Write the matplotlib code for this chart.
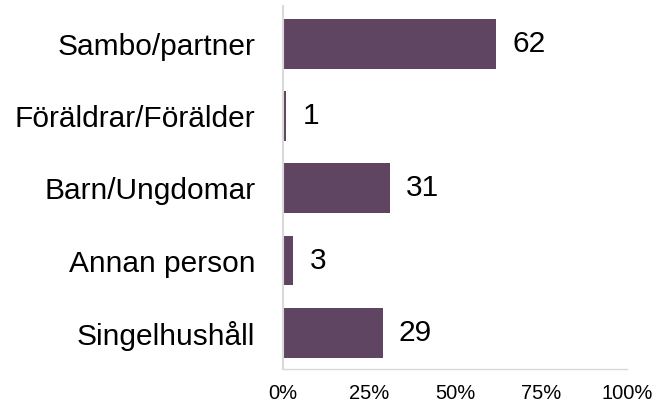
import matplotlib
matplotlib.use("Agg")
import matplotlib.pyplot as plt

categories = ["Sambo/partner", "Föräldrar/Förälder", "Barn/Ungdomar", "Annan person", "Singelhushåll"]
values = [62, 1, 31, 3, 29]
xticks = [0, 25, 50, 75, 100]
xticklabels = ["0%", "25%", "50%", "75%", "100%"]

plt.rcParams['font.family'] = ['Liberation Sans', 'DejaVu Sans']

fig = plt.figure(figsize=(6.58, 4.07), dpi=100)
ax = fig.add_axes([283/658, 1-369/407, (627-283)/658, (369-6)/407])

y = list(range(len(categories)))
ax.barh(y, values, height=0.69, color="#604563")
for yi, v in zip(y, values):
    ax.text(v + 4.7, yi, str(v), va="center", ha="left", fontsize=21.5, color="black")

ax.set_xlim(0, 100)
ax.set_ylim(4.5, -0.52)
ax.set_yticks(y)
ax.set_yticklabels(categories, fontsize=21.5)
ax.set_xticks(xticks)
ax.set_xticklabels(xticklabels, fontsize=14.5)
ax.tick_params(axis="both", length=0)
ax.tick_params(axis="y", pad=20)
ax.tick_params(axis="x", pad=11)
for s in ["top", "right"]:
    ax.spines[s].set_visible(False)
ax.spines["left"].set_color("#d9d9d9")
ax.spines["left"].set_linewidth(1.5)
ax.spines["bottom"].set_color("#d9d9d9")
ax.spines["bottom"].set_linewidth(1.0)

fig.savefig("out.png", dpi=100)
